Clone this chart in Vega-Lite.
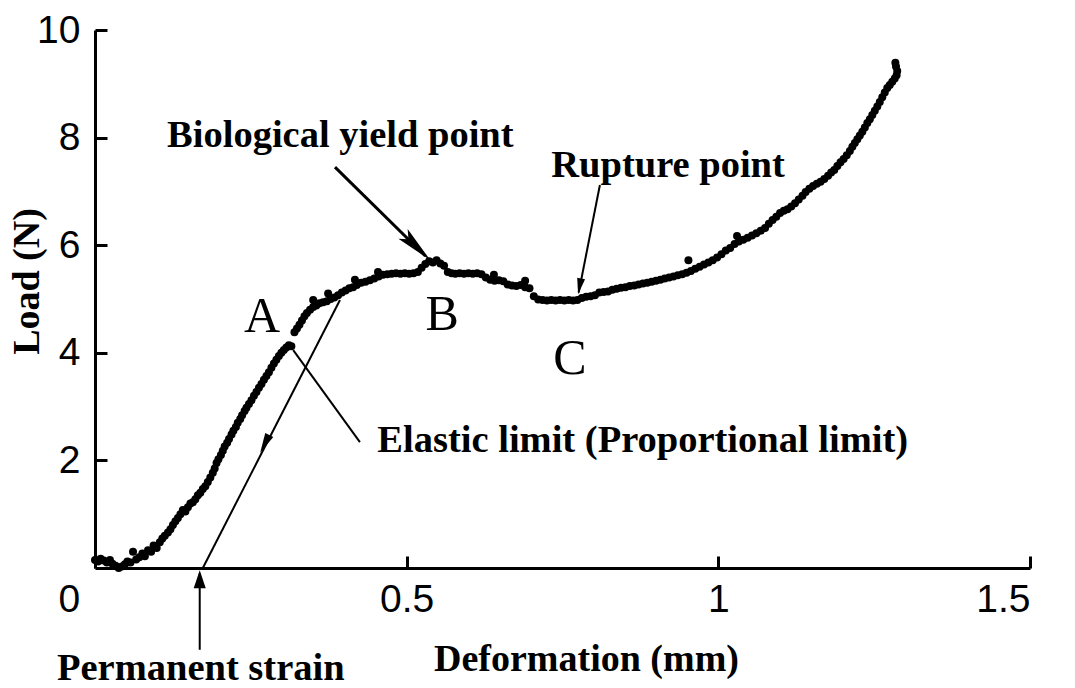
{
  "$schema": "https://vega.github.io/schema/vega-lite/v6.json",
  "autosize": {"type": "none"},
  "padding": {"left": 95, "top": 30, "right": 45, "bottom": 120},
  "width": 935,
  "height": 538,
  "background": "white",
  "config": {
    "view": {"stroke": null},
    "axis": {
      "grid": false,
      "domainColor": "#000",
      "domainWidth": 3,
      "tickColor": "#000",
      "tickWidth": 3,
      "tickSize": -12,
      "labelFont": "Liberation Sans",
      "labelFontSize": 39,
      "labelColor": "#000",
      "titleFont": "Liberation Serif",
      "titleFontWeight": "bold",
      "titleFontSize": 38,
      "titleColor": "#000"
    }
  },
  "datasets": {
    "curve": [
      {"x": 0.000, "y": 0.15}, {"x": 0.005, "y": 0.12}, {"x": 0.009, "y": 0.17}, {"x": 0.014, "y": 0.14},
      {"x": 0.019, "y": 0.10}, {"x": 0.024, "y": 0.15}, {"x": 0.028, "y": 0.08}, {"x": 0.033, "y": 0.04},
      {"x": 0.038, "y": 0.00}, {"x": 0.043, "y": 0.03}, {"x": 0.048, "y": 0.07}, {"x": 0.052, "y": 0.12},
      {"x": 0.057, "y": 0.10}, {"x": 0.061, "y": 0.30}, {"x": 0.066, "y": 0.16}, {"x": 0.071, "y": 0.20},
      {"x": 0.076, "y": 0.27}, {"x": 0.080, "y": 0.22}, {"x": 0.085, "y": 0.33}, {"x": 0.090, "y": 0.30},
      {"x": 0.094, "y": 0.42}, {"x": 0.099, "y": 0.37}, {"x": 0.104, "y": 0.48}, {"x": 0.108, "y": 0.55},
      {"x": 0.112, "y": 0.60}, {"x": 0.117, "y": 0.66}, {"x": 0.121, "y": 0.72}, {"x": 0.125, "y": 0.80},
      {"x": 0.129, "y": 0.87}, {"x": 0.133, "y": 0.93}, {"x": 0.137, "y": 1.00}, {"x": 0.141, "y": 1.08},
      {"x": 0.145, "y": 1.05}, {"x": 0.149, "y": 1.13}, {"x": 0.153, "y": 1.20}, {"x": 0.157, "y": 1.22},
      {"x": 0.161, "y": 1.28}, {"x": 0.165, "y": 1.35}, {"x": 0.169, "y": 1.40}, {"x": 0.173, "y": 1.47},
      {"x": 0.177, "y": 1.52}, {"x": 0.181, "y": 1.60}, {"x": 0.185, "y": 1.68}, {"x": 0.189, "y": 1.77},
      {"x": 0.192, "y": 1.85}, {"x": 0.195, "y": 1.95}, {"x": 0.198, "y": 2.02}, {"x": 0.202, "y": 2.10},
      {"x": 0.205, "y": 2.18}, {"x": 0.208, "y": 2.26}, {"x": 0.212, "y": 2.33}, {"x": 0.215, "y": 2.40},
      {"x": 0.219, "y": 2.48}, {"x": 0.222, "y": 2.55}, {"x": 0.226, "y": 2.62}, {"x": 0.229, "y": 2.70},
      {"x": 0.233, "y": 2.77}, {"x": 0.236, "y": 2.84}, {"x": 0.240, "y": 2.92}, {"x": 0.243, "y": 2.98},
      {"x": 0.247, "y": 3.05}, {"x": 0.251, "y": 3.12}, {"x": 0.255, "y": 3.20}, {"x": 0.259, "y": 3.27},
      {"x": 0.263, "y": 3.35}, {"x": 0.267, "y": 3.42}, {"x": 0.271, "y": 3.50}, {"x": 0.275, "y": 3.57},
      {"x": 0.279, "y": 3.64}, {"x": 0.283, "y": 3.72}, {"x": 0.287, "y": 3.80}, {"x": 0.291, "y": 3.87},
      {"x": 0.295, "y": 3.94}, {"x": 0.299, "y": 4.00}, {"x": 0.303, "y": 4.05}, {"x": 0.307, "y": 4.10},
      {"x": 0.311, "y": 4.14}, {"x": 0.315, "y": 4.12}, {"x": 0.320, "y": 4.38}, {"x": 0.324, "y": 4.45},
      {"x": 0.328, "y": 4.52}, {"x": 0.332, "y": 4.60}, {"x": 0.336, "y": 4.68}, {"x": 0.340, "y": 4.74},
      {"x": 0.345, "y": 4.80}, {"x": 0.350, "y": 4.85}, {"x": 0.350, "y": 4.98}, {"x": 0.355, "y": 4.88},
      {"x": 0.360, "y": 4.92}, {"x": 0.366, "y": 4.94}, {"x": 0.372, "y": 4.96}, {"x": 0.374, "y": 5.10},
      {"x": 0.378, "y": 5.00}, {"x": 0.384, "y": 5.03}, {"x": 0.390, "y": 5.07}, {"x": 0.396, "y": 5.12},
      {"x": 0.402, "y": 5.16}, {"x": 0.408, "y": 5.20}, {"x": 0.414, "y": 5.22}, {"x": 0.417, "y": 5.36},
      {"x": 0.420, "y": 5.26}, {"x": 0.427, "y": 5.30}, {"x": 0.434, "y": 5.32}, {"x": 0.441, "y": 5.35},
      {"x": 0.448, "y": 5.38}, {"x": 0.454, "y": 5.50}, {"x": 0.455, "y": 5.42}, {"x": 0.462, "y": 5.45},
      {"x": 0.469, "y": 5.46}, {"x": 0.476, "y": 5.47}, {"x": 0.483, "y": 5.48}, {"x": 0.490, "y": 5.47},
      {"x": 0.497, "y": 5.48}, {"x": 0.504, "y": 5.47}, {"x": 0.511, "y": 5.48}, {"x": 0.518, "y": 5.50},
      {"x": 0.524, "y": 5.58}, {"x": 0.530, "y": 5.65}, {"x": 0.536, "y": 5.70}, {"x": 0.542, "y": 5.68},
      {"x": 0.548, "y": 5.72}, {"x": 0.554, "y": 5.66}, {"x": 0.560, "y": 5.62}, {"x": 0.566, "y": 5.50},
      {"x": 0.572, "y": 5.48}, {"x": 0.578, "y": 5.47}, {"x": 0.585, "y": 5.48}, {"x": 0.592, "y": 5.47},
      {"x": 0.599, "y": 5.48}, {"x": 0.606, "y": 5.47}, {"x": 0.613, "y": 5.48}, {"x": 0.620, "y": 5.46},
      {"x": 0.627, "y": 5.40}, {"x": 0.634, "y": 5.36}, {"x": 0.640, "y": 5.45}, {"x": 0.641, "y": 5.34},
      {"x": 0.648, "y": 5.35}, {"x": 0.655, "y": 5.33}, {"x": 0.662, "y": 5.27}, {"x": 0.669, "y": 5.25},
      {"x": 0.676, "y": 5.24}, {"x": 0.683, "y": 5.26}, {"x": 0.690, "y": 5.34}, {"x": 0.690, "y": 5.22},
      {"x": 0.697, "y": 5.20}, {"x": 0.704, "y": 5.05}, {"x": 0.711, "y": 4.99}, {"x": 0.718, "y": 4.98},
      {"x": 0.725, "y": 4.97}, {"x": 0.732, "y": 4.98}, {"x": 0.739, "y": 4.97}, {"x": 0.746, "y": 4.98},
      {"x": 0.753, "y": 4.97}, {"x": 0.760, "y": 4.98}, {"x": 0.767, "y": 4.97}, {"x": 0.774, "y": 4.98},
      {"x": 0.781, "y": 5.02}, {"x": 0.788, "y": 5.04}, {"x": 0.795, "y": 5.05}, {"x": 0.802, "y": 5.07},
      {"x": 0.809, "y": 5.12}, {"x": 0.816, "y": 5.13}, {"x": 0.823, "y": 5.14}, {"x": 0.830, "y": 5.17},
      {"x": 0.837, "y": 5.19}, {"x": 0.844, "y": 5.21}, {"x": 0.851, "y": 5.22}, {"x": 0.858, "y": 5.24},
      {"x": 0.865, "y": 5.25}, {"x": 0.872, "y": 5.27}, {"x": 0.879, "y": 5.29}, {"x": 0.886, "y": 5.30},
      {"x": 0.893, "y": 5.32}, {"x": 0.900, "y": 5.34}, {"x": 0.907, "y": 5.36}, {"x": 0.914, "y": 5.38},
      {"x": 0.921, "y": 5.40}, {"x": 0.928, "y": 5.42}, {"x": 0.935, "y": 5.44}, {"x": 0.942, "y": 5.46},
      {"x": 0.949, "y": 5.49}, {"x": 0.952, "y": 5.72}, {"x": 0.956, "y": 5.52}, {"x": 0.963, "y": 5.56},
      {"x": 0.970, "y": 5.60}, {"x": 0.977, "y": 5.64}, {"x": 0.984, "y": 5.68}, {"x": 0.991, "y": 5.72},
      {"x": 0.998, "y": 5.77}, {"x": 1.005, "y": 5.83}, {"x": 1.012, "y": 5.90}, {"x": 1.019, "y": 5.95},
      {"x": 1.026, "y": 6.02}, {"x": 1.030, "y": 6.17}, {"x": 1.033, "y": 6.07}, {"x": 1.040, "y": 6.10},
      {"x": 1.047, "y": 6.14}, {"x": 1.054, "y": 6.18}, {"x": 1.061, "y": 6.22}, {"x": 1.068, "y": 6.27},
      {"x": 1.075, "y": 6.32}, {"x": 1.081, "y": 6.40}, {"x": 1.087, "y": 6.47}, {"x": 1.093, "y": 6.53},
      {"x": 1.099, "y": 6.60}, {"x": 1.105, "y": 6.64}, {"x": 1.111, "y": 6.67}, {"x": 1.117, "y": 6.72},
      {"x": 1.123, "y": 6.78}, {"x": 1.129, "y": 6.85}, {"x": 1.135, "y": 6.92}, {"x": 1.140, "y": 6.99},
      {"x": 1.146, "y": 7.05}, {"x": 1.152, "y": 7.10}, {"x": 1.158, "y": 7.14}, {"x": 1.164, "y": 7.18},
      {"x": 1.170, "y": 7.23}, {"x": 1.176, "y": 7.29}, {"x": 1.181, "y": 7.35}, {"x": 1.186, "y": 7.40},
      {"x": 1.191, "y": 7.47}, {"x": 1.196, "y": 7.54}, {"x": 1.201, "y": 7.60}, {"x": 1.206, "y": 7.67},
      {"x": 1.211, "y": 7.75}, {"x": 1.215, "y": 7.83}, {"x": 1.219, "y": 7.90}, {"x": 1.223, "y": 7.97},
      {"x": 1.227, "y": 8.04}, {"x": 1.231, "y": 8.11}, {"x": 1.235, "y": 8.19}, {"x": 1.239, "y": 8.27},
      {"x": 1.243, "y": 8.34}, {"x": 1.247, "y": 8.42}, {"x": 1.251, "y": 8.50}, {"x": 1.255, "y": 8.58},
      {"x": 1.259, "y": 8.66}, {"x": 1.263, "y": 8.75}, {"x": 1.267, "y": 8.84}, {"x": 1.271, "y": 8.92},
      {"x": 1.275, "y": 8.98}, {"x": 1.279, "y": 9.04}, {"x": 1.283, "y": 9.10}, {"x": 1.286, "y": 9.16},
      {"x": 1.287, "y": 9.24}, {"x": 1.285, "y": 9.32}, {"x": 1.284, "y": 9.39}
    ],
    "lines": [
      {"line": "yield", "x": 0.385, "y": 7.45, "x2": 0.530, "y2": 5.80},
      {"line": "rupture", "x": 0.810, "y": 7.12, "x2": 0.776, "y2": 5.12},
      {"line": "elastic", "x": 0.318, "y": 4.05, "x2": 0.425, "y2": 2.34},
      {"line": "unloading", "x": 0.393, "y": 4.98, "x2": 0.173, "y2": 0.0},
      {"line": "permanent", "x": 0.168, "y": -1.52, "x2": 0.168, "y2": -0.1}
    ],
    "heads": [
      {"head": "yield", "x": 0.538, "y": 5.72},
      {"head": "rupture", "x": 0.775, "y": 5.09},
      {"head": "unloading", "x": 0.265, "y": 2.14},
      {"head": "permanent", "x": 0.168, "y": -0.04}
    ],
    "notes": [
      {"label": "Biological yield point", "x": 0.1156, "y": 7.83},
      {"label": "Rupture point", "x": 0.732, "y": 7.27},
      {"label": "Elastic limit (Proportional limit)", "x": 0.453, "y": 2.16},
      {"label": "Permanent strain", "x": -0.061, "y": -2.08}
    ],
    "letters": [
      {"label": "A", "x": 0.268, "y": 4.39},
      {"label": "B", "x": 0.557, "y": 4.42},
      {"label": "C", "x": 0.762, "y": 3.6}
    ]
  },
  "encoding": {
    "x": {
      "field": "x", "type": "quantitative",
      "scale": {"domain": [0, 1.5], "nice": false, "zero": false},
      "title": "Deformation (mm)",
      "axis": {
        "values": [0, 0.5, 1, 1.5],
        "labelExpr": "'' + datum.value",
        "labelPadding": 24,
        "labelOffset": {"condition": {"test": "datum.value === 0", "value": -37}, "value": 0},
        "titleX": 491, "titleY": 102, "titleAlign": "center", "titleBaseline": "alphabetic"
      }
    },
    "y": {
      "field": "y", "type": "quantitative",
      "scale": {"domain": [0, 10], "nice": false, "zero": false},
      "title": "Load (N)",
      "axis": {
        "values": [2, 4, 6, 8, 10],
        "labelExpr": "'' + datum.value",
        "labelPadding": 27,
        "titleAngle": -90,
        "titleX": -57, "titleY": 251, "titleAlign": "center", "titleBaseline": "alphabetic"
      }
    }
  },
  "layer": [
    {
      "data": {"name": "lines"},
      "transform": [{"filter": "datum.line !== 'yield'"}],
      "mark": {"type": "rule", "color": "#000", "strokeWidth": 2},
      "encoding": {"x2": {"field": "x2"}, "y2": {"field": "y2"}}
    },
    {
      "data": {"name": "lines"},
      "transform": [{"filter": "datum.line === 'yield'"}],
      "mark": {"type": "rule", "color": "#000", "strokeWidth": 3},
      "encoding": {"x2": {"field": "x2"}, "y2": {"field": "y2"}}
    },
    {
      "data": {"name": "heads"},
      "transform": [{"filter": "datum.head === 'yield'"}],
      "mark": {"type": "point", "filled": true, "color": "#000", "opacity": 1, "shape": "M0,0L0.35,2L0,1.6L-0.35,2Z", "size": 1444, "angle": 134}
    },
    {
      "data": {"name": "heads"},
      "transform": [{"filter": "datum.head === 'rupture'"}],
      "mark": {"type": "point", "filled": true, "color": "#000", "opacity": 1, "shape": "M0,0L0.5,2L-0.5,2Z", "size": 256, "angle": 191}
    },
    {
      "data": {"name": "heads"},
      "transform": [{"filter": "datum.head === 'unloading'"}],
      "mark": {"type": "point", "filled": true, "color": "#000", "opacity": 1, "shape": "M0,0L0.45,2L-0.45,2Z", "size": 400, "angle": 207}
    },
    {
      "data": {"name": "heads"},
      "transform": [{"filter": "datum.head === 'permanent'"}],
      "mark": {"type": "point", "filled": true, "color": "#000", "opacity": 1, "shape": "M0,0L0.67,2L-0.67,2Z", "size": 324, "angle": 0}
    },
    {
      "data": {"name": "curve"},
      "mark": {"type": "point", "filled": true, "color": "#000", "opacity": 1, "size": 64, "shape": "circle"}
    },
    {
      "data": {"name": "notes"},
      "mark": {"type": "text", "align": "left", "baseline": "alphabetic", "font": "Liberation Serif", "fontWeight": "bold", "fontSize": 38.5, "color": "#000"},
      "encoding": {"text": {"field": "label"}}
    },
    {
      "data": {"name": "letters"},
      "mark": {"type": "text", "align": "center", "baseline": "alphabetic", "font": "Liberation Serif", "fontSize": 50, "color": "#000"},
      "encoding": {"text": {"field": "label"}}
    }
  ]
}
